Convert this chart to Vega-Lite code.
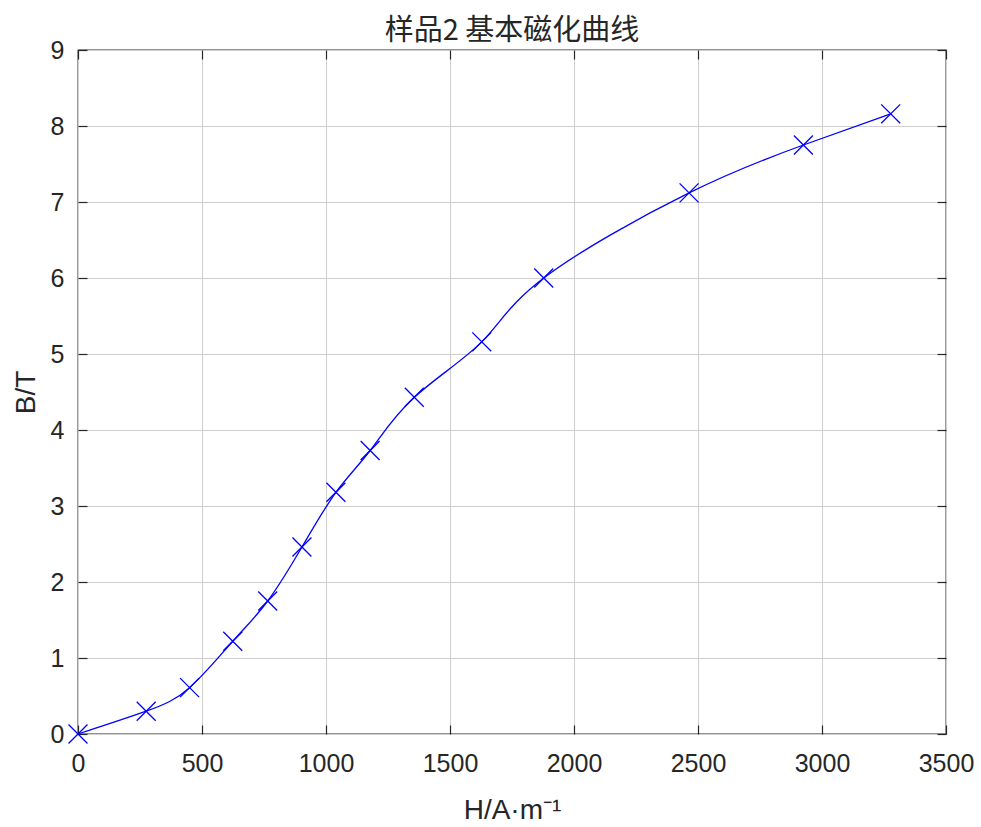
{
  "$schema": "https://vega.github.io/schema/vega-lite/v6.json",
  "width": 868,
  "height": 684,
  "autosize": {"type": "none"},
  "padding": {"left": 78, "top": 50, "right": 35, "bottom": 93},
  "background": "white",
  "title": {
    "text": "样品2 基本磁化曲线",
    "font": "Noto Sans CJK SC",
    "fontSize": 29,
    "fontWeight": "normal",
    "color": "#262626",
    "anchor": "middle",
    "offset": -8
  },
  "config": {
    "view": {"stroke": "#262626", "strokeWidth": 1.3},
    "axis": {
      "labelFont": "Liberation Sans",
      "labelFontSize": 25,
      "labelColor": "#262626",
      "titleFont": "Liberation Sans",
      "titleFontSize": 28,
      "titleFontWeight": "normal",
      "titleColor": "#262626",
      "gridColor": "#cfcfcf",
      "gridWidth": 1,
      "domain": false,
      "tickColor": "#262626",
      "tickWidth": 1.2,
      "tickSize": -9,
      "labelFlush": false,
      "labelOverlap": false,
      "format": "d"
    }
  },
  "resolve": {"axis": {"x": "independent", "y": "independent"}},
  "data": {
    "values": [
      {"H": 0, "B": 0.0},
      {"H": 275, "B": 0.30},
      {"H": 450, "B": 0.61},
      {"H": 624, "B": 1.22},
      {"H": 765, "B": 1.75},
      {"H": 903, "B": 2.46},
      {"H": 1040, "B": 3.18},
      {"H": 1178, "B": 3.73},
      {"H": 1356, "B": 4.43},
      {"H": 1628, "B": 5.16},
      {"H": 1878, "B": 6.0},
      {"H": 2464, "B": 7.12},
      {"H": 2925, "B": 7.75},
      {"H": 3277, "B": 8.16}
    ]
  },
  "layer": [
    {
      "mark": {"type": "line", "color": "#0000ff", "strokeWidth": 1.3, "interpolate": "natural"},
      "encoding": {
        "x": {
          "field": "H",
          "type": "quantitative",
          "scale": {"domain": [0, 3500], "nice": false},
          "axis": {"orient": "bottom", "values": [0, 500, 1000, 1500, 2000, 2500, 3000, 3500], "title": "H/A·m⁻¹", "labelPadding": 26, "titlePadding": 20}
        },
        "y": {
          "field": "B",
          "type": "quantitative",
          "scale": {"domain": [0, 9], "nice": false},
          "axis": {"orient": "left", "values": [0, 1, 2, 3, 4, 5, 6, 7, 8, 9], "title": "B/T", "labelPadding": 23, "titlePadding": 10}
        }
      }
    },
    {
      "mark": {
        "type": "point",
        "shape": "M-1,-1L1,1M-1,1L1,-1",
        "size": 360,
        "filled": false,
        "color": "#0000ff",
        "strokeWidth": 1.3,
        "opacity": 1
      },
      "encoding": {
        "x": {
          "field": "H",
          "type": "quantitative",
          "axis": {"orient": "top", "values": [0, 500, 1000, 1500, 2000, 2500, 3000, 3500], "title": null, "labels": false, "grid": false}
        },
        "y": {
          "field": "B",
          "type": "quantitative",
          "axis": {"orient": "right", "values": [0, 1, 2, 3, 4, 5, 6, 7, 8, 9], "title": null, "labels": false, "grid": false}
        }
      }
    }
  ]
}
